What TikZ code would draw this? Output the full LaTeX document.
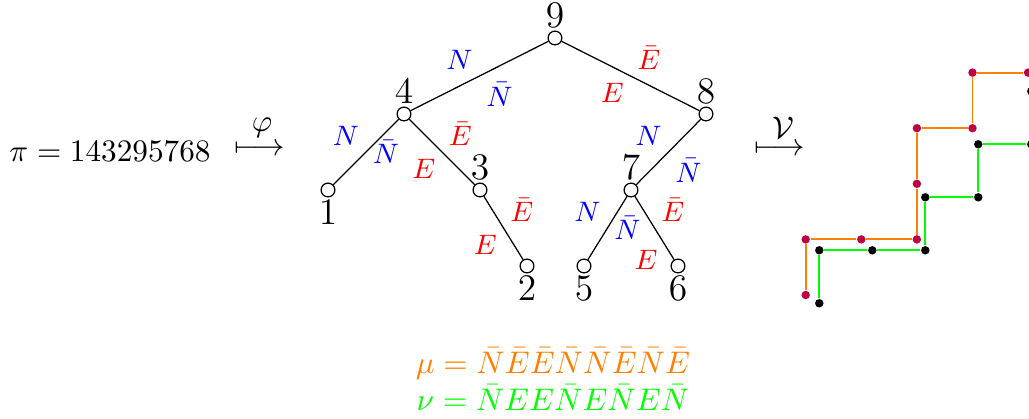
\documentclass[tikz,border=0pt]{standalone}
\usepackage{amssymb,amsmath}
\usepackage{tikz}
\usetikzlibrary{arrows.meta, positioning}

\begin{document}
\begin{tikzpicture}[
    x=0.32pt, y=0.32pt,
    vtx/.style={draw,circle,fill=white,inner sep=0pt,minimum size=4.4pt},
    num/.style={font=\large,inner sep=0.8pt},
    nlab/.style={font=\small,text=blue,inner sep=2pt},
    elab/.style={font=\small,text=red,inner sep=2pt},
    mudot/.style={circle,fill=purple,inner sep=0pt,minimum size=2.7pt},
    nudot/.style={circle,fill=black,inner sep=0pt,minimum size=2.7pt},
    mupath/.style={orange,line width=0.6pt},
    nupath/.style={green,line width=0.6pt}
]
\useasboundingbox (0,0) rectangle (1029,419);
% permutation and the map phi
\node (perm) at (110,268) {$\pi = 143295768$};
\node (phiarrow) at (260,269) {$\longmapsto$};
\node (phi) at (262,291) {$\varphi$};
% the tree
\node[vtx,label={[num]above:$9$}] (n9) at (555,381) {};
\node[vtx,label={[num]above:$4$}] (n4) at (404,305) {};
\node[vtx,label={[num]above:$8$}] (n8) at (706,305) {};
\node[vtx,label={[num]below:$1$}] (n1) at (328,229) {};
\node[vtx,label={[num]above:$3$}] (n3) at (480,229) {};
\node[vtx,label={[num]above:$7$}] (n7) at (631,229) {};
\node[vtx,label={[num]below:$2$}] (n2) at (527,153) {};
\node[vtx,label={[num]below:$5$}] (n5) at (584,153) {};
\node[vtx,label={[num]below:$6$}] (n6) at (678,153) {};
\draw (n9) -- node[nlab,above left] (l94a) {$N$}
               node[nlab,below right] (l94b) {$\bar N$} (n4);
\draw (n9) -- node[elab,above right] (l98a) {$\bar E$}
               node[elab,below left] (l98b) {$E$} (n8);
\draw (n4) -- node[nlab,above left] (l41a) {$N$}
               node[nlab,right] (l41b) {$\bar N$} (n1);
\draw (n4) -- node[elab,above right] (l43a) {$\bar E$}
               node[elab,below left] (l43b) {$E$} (n3);
\draw (n3) -- node[elab,above right] (l32a) {$\bar E$}
               node[elab,below left] (l32b) {$E$} (n2);
\draw (n8) -- node[nlab,above left] (l87a) {$N$}
               node[nlab,below right] (l87b) {$\bar N$} (n7);
\draw (n7) -- node[nlab,above left] (l75a) {$N$}
               node[nlab,right] (l75b) {$\bar N$} (n5);
\draw (n7) -- node[elab,above right] (l76a) {$\bar E$}
               node[elab,below left,pos=.75] (l76b) {$E$} (n6);
% the words
\node[align=center] (words) at (553,40)
    {\textcolor{orange}{$\mu = \bar N\bar E\bar E\bar N\bar N\bar E\bar N\bar E$}\\
     \textcolor{green}{$\nu = \bar N EE\bar N E\bar N E\bar N$}};
% the map V
\node (varrow) at (780,269) {$\longmapsto$};
\node (calv) at (783,291) {$\mathcal{V}$};
% lattice path of mu
\begin{scope}[node distance=17.79pt, on grid]
\node[mudot] (m0) at (805.7,124) {};
\node[mudot,above=of m0] (m1) {};
\node[mudot,right=of m1] (m2) {};
\node[mudot,right=of m2] (m3) {};
\node[mudot,above=of m3] (m4) {};
\node[mudot,above=of m4] (m5) {};
\node[mudot,right=of m5] (m6) {};
\node[mudot,above=of m6] (m7) {};
\node[mudot,right=of m7] (m8) {};
\draw[mupath] (m0) -- (m1) -- (m2) -- (m3) -- (m4) -- (m5) -- (m6) -- (m7) -- (m8);
\end{scope}
% lattice path of nu
\begin{scope}[node distance=16.96pt, on grid]
\node[nudot] (g0) at (819.3,115.7) {};
\node[nudot,above=of g0] (g1) {};
\node[nudot,right=of g1] (g2) {};
\node[nudot,right=of g2] (g3) {};
\node[nudot,above=of g3] (g4) {};
\node[nudot,right=of g4] (g5) {};
\node[nudot,above=of g5] (g6) {};
\node[nudot,right=of g6] (g7) {};
\node[nudot,above=of g7] (g8) {};
\draw[nupath] (g0) -- (g1) -- (g2) -- (g3) -- (g4) -- (g5) -- (g6) -- (g7) -- (g8);
\end{scope}
\end{tikzpicture}
\end{document}
